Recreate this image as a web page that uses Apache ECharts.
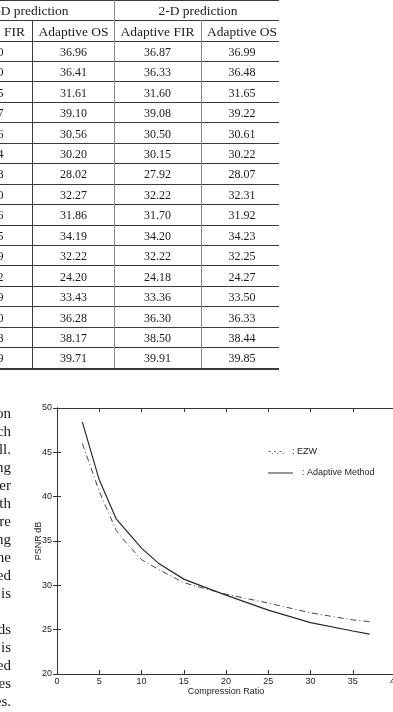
<!DOCTYPE html>
<html>
<head>
<meta charset="utf-8">
<script src="https://cdn.jsdelivr.net/npm/echarts@6/dist/echarts.min.js"></script>
<style>
html, body { margin: 0; padding: 0; background: #fff; }
#page { position: relative; width: 393px; height: 712px; overflow: hidden; }
#chart { position: absolute; left: 0; top: 0; width: 393px; height: 712px; }
#table { position: absolute; left: 0; top: 0; width: 393px; height: 372px; overflow: hidden; font-family: "Liberation Serif", serif; color: #1a1a1a; }
#table .cell { position: absolute; white-space: nowrap; transform: translate(-50%, -50%); }
#table .hline, #table .vline { position: absolute; background: #3a3a3a; }
#bodyText { position: absolute; left: -40px; top: 404px; width: 51px; text-align: right; font-family: "Liberation Serif", serif; font-size: 15px; line-height: 18px; color: #1a1a1a; }
</style>
</head>
<body>
<div id="page">
  <div id="chart"></div>
  <div id="table"></div>
  <div id="bodyText"></div>
</div>
<script>
// 曲线数据：压缩比 vs PSNR
const ratioEZW = [3, 5, 7, 8, 10, 12, 15, 18, 20, 25, 30, 35, 37]
const psnrEZW = [46.0, 40.6, 36.2, 35.0, 32.9, 31.8, 30.3, 29.5, 29.0, 28.0, 26.9, 26.1, 25.9]
const ratioAdaptive = [3, 5, 7, 10, 12, 15, 18, 20, 25, 30, 35, 37]
const psnrAdaptive = [48.4, 41.9, 37.5, 34.2, 32.5, 30.7, 29.6, 28.9, 27.2, 25.8, 24.85, 24.5]

// 表格数据
const headTop = ['1-D prediction', '2-D prediction']
const headCols = ['Adaptive FIR', 'Adaptive OS', 'Adaptive FIR', 'Adaptive OS']
const firCut = ['0', '0', '5', '7', '6', '4', '8', '0', '6', '5', '9', '2', '9', '0', '8', '9']
const os1D = ['36.96', '36.41', '31.61', '39.10', '30.56', '30.20', '28.02', '32.27', '31.86', '34.19', '32.22', '24.20', '33.43', '36.28', '38.17', '39.71']
const fir2D = ['36.87', '36.33', '31.60', '39.08', '30.50', '30.15', '27.92', '32.22', '31.70', '34.20', '32.22', '24.18', '33.36', '36.30', '38.50', '39.91']
const os2D = ['36.99', '36.48', '31.65', '39.22', '30.61', '30.22', '28.07', '32.31', '31.92', '34.23', '32.25', '24.27', '33.50', '36.33', '38.44', '39.85']

// 左侧正文残片
const bodyTails = ['on', 'ch', 'll.', 'ng', 'er', 'th', 're', 'ng', 'he', 'ed', 'is', '', 'ds', 'is', 'ed', 'es', 'es.']

function buildTable() {
  const box = document.getElementById('table')
  const colX = [-12, 73.5, 157.5, 242]
  const rowH = 20.45
  const bodyTop = 41
  const add = (cls, css, text) => {
    const d = document.createElement('div')
    d.className = cls
    Object.assign(d.style, css)
    if (text !== undefined) d.textContent = text
    box.appendChild(d)
  }
  // 横线
  const ys = [0, 20, bodyTop]
  for (let i = 1; i <= firCut.length; i++) ys.push(bodyTop + i * rowH)
  ys.forEach((y, i) => {
    const last = i === ys.length - 1
    add('hline', { left: '0px', width: '279px', top: (y - 0.5) + 'px', height: last ? '2px' : '1px' })
  })
  // 竖线
  add('vline', { left: '31.5px', width: '1px', top: '20px', height: (ys[ys.length - 1] - 20) + 'px' })
  add('vline', { left: '113.5px', width: '1px', top: '0px', height: ys[ys.length - 1] + 'px', background: '#8a8a8a' })
  add('vline', { left: '200.5px', width: '1px', top: '20px', height: (ys[ys.length - 1] - 20) + 'px', background: '#8a8a8a' })
  // 表头
  add('cell', { left: '29px', top: '11px', fontSize: '13.5px' }, headTop[0])
  add('cell', { left: '198px', top: '11px', fontSize: '13.5px' }, headTop[1])
  headCols.forEach((t, c) => add('cell', { left: colX[c] + 'px', top: '31.5px', fontSize: '13.5px' }, t))
  // 数据行
  const cols = [firCut, os1D, fir2D, os2D]
  cols.forEach((col, c) => {
    col.forEach((v, r) => {
      const x = c === 0 ? 0.5 : colX[c]
      add('cell', { left: x + 'px', top: (bodyTop + (r + 0.5) * rowH + 0.5) + 'px', fontSize: '12px' }, v)
    })
  })
}

function buildBodyText() {
  const el = document.getElementById('bodyText')
  el.innerHTML = bodyTails.map(t => t || '&nbsp;').join('<br>')
}

function renderChart() {
  const chart = echarts.init(document.getElementById('chart'), null, { renderer: 'canvas' })
  const ink = '#333'
  const font = '"Liberation Sans", Arial, sans-serif'
  const axisBase = {
    type: 'value',
    axisLine: { show: true, lineStyle: { color: ink, width: 1 } },
    axisTick: { show: true, inside: true, length: 4, lineStyle: { color: ink } },
    splitLine: { show: false }
  }
  const option = {
    backgroundColor: 'transparent',
    animation: false,
    grid: { left: 57, top: 408, width: 338, height: 266, outerBoundsMode: 'none', containLabel: false },
    xAxis: [
      Object.assign({}, axisBase, {
        min: 0, max: 40, interval: 5, position: 'bottom',
        axisLabel: { color: '#222', fontSize: 9, fontFamily: font, margin: 3 },
        name: 'Compression Ratio',
        nameLocation: 'middle',
        nameGap: 13,
        nameMoveOverlap: false,
        nameTextStyle: { color: '#222', fontSize: 9, fontFamily: font }
      }),
      Object.assign({}, axisBase, {
        min: 0, max: 40, interval: 5, position: 'top',
        axisLabel: { show: false }
      })
    ],
    yAxis: [
      Object.assign({}, axisBase, {
        min: 20, max: 50, interval: 5, position: 'left',
        axisLabel: { color: '#222', fontSize: 9, fontFamily: font, margin: 5 },
        name: 'PSNR dB',
        nameLocation: 'middle',
        nameGap: 14,
        nameMoveOverlap: false,
        nameTextStyle: { color: '#222', fontSize: 9, fontFamily: font }
      }),
      Object.assign({}, axisBase, {
        min: 20, max: 50, interval: 5, position: 'right',
        axisLabel: { show: false }
      })
    ],
    graphic: [
      { type: 'text', left: 268, top: 447, style: { text: '-.-.-.', fill: '#333', font: '9px ' + font } },
      { type: 'text', left: 292, top: 447, style: { text: ': EZW', fill: '#222', font: '9px ' + font } },
      { type: 'line', shape: { x1: 268, y1: 473, x2: 293, y2: 473 }, style: { stroke: ink, lineWidth: 1 } },
      { type: 'text', left: 302, top: 468, style: { text: ': Adaptive Method', fill: '#222', font: '9px ' + font } }
    ],
    series: [
      {
        name: 'EZW',
        type: 'line',
        data: ratioEZW.map((x, i) => [x, psnrEZW[i]]),
        symbol: 'none',
        lineStyle: { color: '#444', width: 1, type: [6, 3, 1, 3] }
      },
      {
        name: 'Adaptive Method',
        type: 'line',
        data: ratioAdaptive.map((x, i) => [x, psnrAdaptive[i]]),
        symbol: 'none',
        lineStyle: { color: '#2a2a2a', width: 1.2 }
      }
    ]
  }
  chart.setOption(option)
}

buildTable()
buildBodyText()
renderChart()
</script>
</body>
</html>
